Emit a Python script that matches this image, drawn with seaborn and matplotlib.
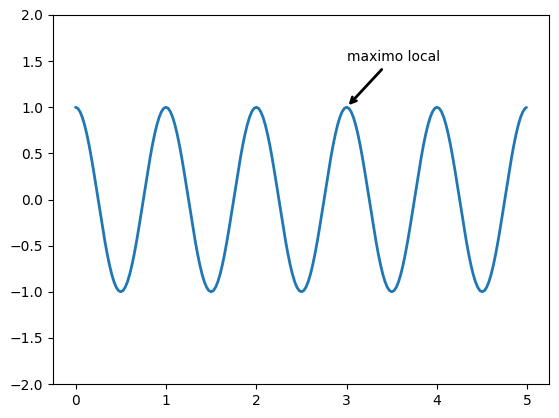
import matplotlib
matplotlib.use("Agg")
import matplotlib.pyplot as plt
import seaborn as sns
import pandas as pd

sns.set_style("white")
plt.rcParams['font.family'] = ['DejaVu Sans']

t = [0.000, 0.025, 0.050, 0.075, 0.100, 0.125, 0.150, 0.175, 0.200, 0.225,
     0.250, 0.275, 0.300, 0.325, 0.350, 0.375, 0.400, 0.425, 0.450, 0.475,
     0.500, 0.525, 0.550, 0.575, 0.600, 0.625, 0.650, 0.675, 0.700, 0.725,
     0.750, 0.775, 0.800, 0.825, 0.850, 0.875, 0.900, 0.925, 0.950, 0.975,
     1.000, 1.025, 1.050, 1.075, 1.100, 1.125, 1.150, 1.175, 1.200, 1.225,
     1.250, 1.275, 1.300, 1.325, 1.350, 1.375, 1.400, 1.425, 1.450, 1.475,
     1.500, 1.525, 1.550, 1.575, 1.600, 1.625, 1.650, 1.675, 1.700, 1.725,
     1.750, 1.775, 1.800, 1.825, 1.850, 1.875, 1.900, 1.925, 1.950, 1.975,
     2.000, 2.025, 2.050, 2.075, 2.100, 2.125, 2.150, 2.175, 2.200, 2.225,
     2.250, 2.275, 2.300, 2.325, 2.350, 2.375, 2.400, 2.425, 2.450, 2.475,
     2.500, 2.525, 2.550, 2.575, 2.600, 2.625, 2.650, 2.675, 2.700, 2.725,
     2.750, 2.775, 2.800, 2.825, 2.850, 2.875, 2.900, 2.925, 2.950, 2.975,
     3.000, 3.025, 3.050, 3.075, 3.100, 3.125, 3.150, 3.175, 3.200, 3.225,
     3.250, 3.275, 3.300, 3.325, 3.350, 3.375, 3.400, 3.425, 3.450, 3.475,
     3.500, 3.525, 3.550, 3.575, 3.600, 3.625, 3.650, 3.675, 3.700, 3.725,
     3.750, 3.775, 3.800, 3.825, 3.850, 3.875, 3.900, 3.925, 3.950, 3.975,
     4.000, 4.025, 4.050, 4.075, 4.100, 4.125, 4.150, 4.175, 4.200, 4.225,
     4.250, 4.275, 4.300, 4.325, 4.350, 4.375, 4.400, 4.425, 4.450, 4.475,
     4.500, 4.525, 4.550, 4.575, 4.600, 4.625, 4.650, 4.675, 4.700, 4.725,
     4.750, 4.775, 4.800, 4.825, 4.850, 4.875, 4.900, 4.925, 4.950, 4.975,
     4.990]
s = [1.000, 0.988, 0.951, 0.891, 0.809, 0.707, 0.588, 0.454, 0.309, 0.156,
     0.000, -0.156, -0.309, -0.454, -0.588, -0.707, -0.809, -0.891, -0.951, -0.988,
     -1.000, -0.988, -0.951, -0.891, -0.809, -0.707, -0.588, -0.454, -0.309, -0.156,
     0.000, 0.156, 0.309, 0.454, 0.588, 0.707, 0.809, 0.891, 0.951, 0.988,
     1.000, 0.988, 0.951, 0.891, 0.809, 0.707, 0.588, 0.454, 0.309, 0.156,
     0.000, -0.156, -0.309, -0.454, -0.588, -0.707, -0.809, -0.891, -0.951, -0.988,
     -1.000, -0.988, -0.951, -0.891, -0.809, -0.707, -0.588, -0.454, -0.309, -0.156,
     0.000, 0.156, 0.309, 0.454, 0.588, 0.707, 0.809, 0.891, 0.951, 0.988,
     1.000, 0.988, 0.951, 0.891, 0.809, 0.707, 0.588, 0.454, 0.309, 0.156,
     0.000, -0.156, -0.309, -0.454, -0.588, -0.707, -0.809, -0.891, -0.951, -0.988,
     -1.000, -0.988, -0.951, -0.891, -0.809, -0.707, -0.588, -0.454, -0.309, -0.156,
     0.000, 0.156, 0.309, 0.454, 0.588, 0.707, 0.809, 0.891, 0.951, 0.988,
     1.000, 0.988, 0.951, 0.891, 0.809, 0.707, 0.588, 0.454, 0.309, 0.156,
     0.000, -0.156, -0.309, -0.454, -0.588, -0.707, -0.809, -0.891, -0.951, -0.988,
     -1.000, -0.988, -0.951, -0.891, -0.809, -0.707, -0.588, -0.454, -0.309, -0.156,
     0.000, 0.156, 0.309, 0.454, 0.588, 0.707, 0.809, 0.891, 0.951, 0.988,
     1.000, 0.988, 0.951, 0.891, 0.809, 0.707, 0.588, 0.454, 0.309, 0.156,
     0.000, -0.156, -0.309, -0.454, -0.588, -0.707, -0.809, -0.891, -0.951, -0.988,
     -1.000, -0.988, -0.951, -0.891, -0.809, -0.707, -0.588, -0.454, -0.309, -0.156,
     0.000, 0.156, 0.309, 0.454, 0.588, 0.707, 0.809, 0.891, 0.951, 0.988,
     0.998]

annot_text = "maximo local"
annot_xy = (3.0, 1.0)
annot_text_xy = (3.0, 1.5)

df = pd.DataFrame({"t": t, "s": s})

fig = plt.figure(figsize=(5.59, 4.18), dpi=100)
ax = fig.add_axes([53/559, 1 - 384/418, (549 - 53)/559, (384 - 15)/418])
sns.lineplot(data=df, x="t", y="s", ax=ax, color="#1f77b4", linewidth=2)
ax.set_ylim(-2, 2)
ax.set_xlabel("")
ax.set_ylabel("")
for sp in ax.spines.values():
    sp.set_visible(True)
    sp.set_color("black")
    sp.set_linewidth(0.8)
ax.tick_params(axis="both", which="both", direction="out", length=3.5, width=0.8,
               bottom=True, left=True, labelsize=10, colors="black")
ax.annotate(annot_text, xy=annot_xy, xytext=annot_text_xy, color="black",
            arrowprops=dict(arrowstyle="->", lw=2, color="black"))
fig.savefig("out.png", dpi=100)
